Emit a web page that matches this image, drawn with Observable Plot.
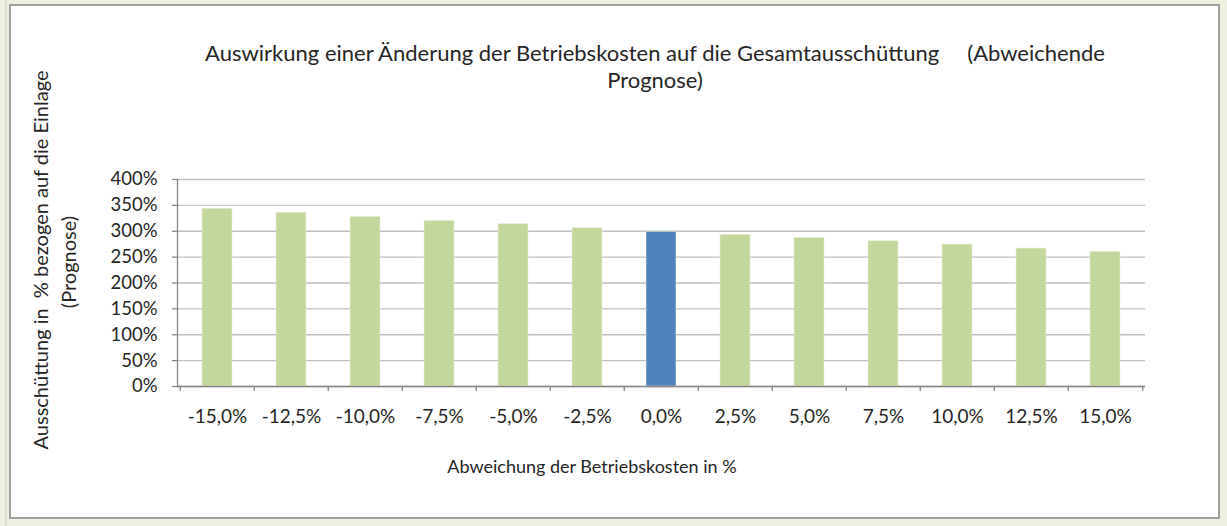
<!DOCTYPE html>
<html>
<head>
<meta charset="utf-8">
<script src="https://cdn.jsdelivr.net/npm/d3@7"></script>
<script src="https://cdn.jsdelivr.net/npm/@observablehq/plot@0.6"></script>
<style>
  html, body { margin: 0; padding: 0; }
  body { background: #EBF1DE; width: 1227px; height: 526px; position: relative; overflow: hidden; font-family: "Lato", "Open Sans", sans-serif; }
  #stripe { position: absolute; left: 5px; top: 0; width: 2px; height: 526px; background: #D9DDD2; }
  #box { position: absolute; left: 9px; top: 4px; width: 1207px; height: 511px; background: #fff; border: 2px solid #A0A0A0; }
  #chart { position: absolute; left: 0; top: 0; }
  .t { position: absolute; color: #262626; white-space: nowrap; }
  #title { left: 155px; width: 1000px; top: 39px; text-align: center; font-size: 22px; line-height: 27px; }
  #xtitle { left: 392px; width: 400px; top: 454px; text-align: center; font-size: 18px; line-height: 24px; }
  .yt { font-size: 20px; line-height: 24px; transform: translate(-50%, -50%) rotate(-90deg); }
</style>
</head>
<body>
<div id="stripe"></div>
<div id="box"></div>
<div id="chart"></div>
<div class="t" id="title">Auswirkung einer Änderung der Betriebskosten auf die Gesamtausschüttung&nbsp;&nbsp;&nbsp;&nbsp; (Abweichende<br>Prognose)</div>
<div class="t" id="xtitle">Abweichung der Betriebskosten in %</div>
<div class="t yt" id="yt1" style="left:40px; top:260px;">Ausschüttung in &nbsp;% bezogen auf die Einlage</div>
<div class="t yt" id="yt2" style="left:68px; top:262px;">(Prognose)</div>
<script>
const categories = ["-15,0%","-12,5%","-10,0%","-7,5%","-5,0%","-2,5%","0,0%","2,5%","5,0%","7,5%","10,0%","12,5%","15,0%"];
const values = [343.5, 335.8, 327.5, 319.8, 313.5, 305.8, 299.0, 293.0, 287.0, 280.7, 274.2, 266.5, 260.2];
const highlightCategory = "0,0%";
const yTicks = [0, 50, 100, 150, 200, 250, 300, 350, 400];

const data = categories.map((c, i) => ({cat: c, value: values[i], group: c === highlightCategory ? "base" : "other"}));

const W = 1227, H = 526;
const mL = 177, mR = 82, mT = 179, mB = 140;
const plotW = W - mL - mR, plotH = H - mT - mB;
const step = plotW / categories.length;
const axisColor = "#868686";

const chart = Plot.plot({
  width: W, height: H,
  marginLeft: mL, marginRight: mR, marginTop: mT, marginBottom: mB,
  style: {background: "transparent", fontFamily: "Lato, 'Open Sans', sans-serif", fontSize: "18px", color: "#262626", overflow: "visible"},
  x: {domain: categories, paddingInner: 0.59, paddingOuter: 0.295, label: null},
  y: {domain: [0, 400], label: null},
  color: {domain: ["other", "base"], range: ["#C3D69B", "#4F81BD"]},
  marks: [
    Plot.gridY(yTicks, {stroke: "#BFBFBF", strokeOpacity: 1, strokeWidth: 1.3}),
    Plot.barY(data, {x: "cat", y: "value", fill: "group", stroke: "#E6EDD6", strokeWidth: 0.6}),
    Plot.ruleY([0], {stroke: axisColor, strokeWidth: 1.3}),
    Plot.frame({anchor: "left", stroke: axisColor, strokeWidth: 1.3}),
    Plot.ruleX(categories, {x: d => d, dx: -step / 2, stroke: axisColor, strokeWidth: 1.3, insetTop: plotH, insetBottom: -5}),
    Plot.ruleX(categories.slice(-1), {x: d => d, dx: step / 2, stroke: axisColor, strokeWidth: 1.3, insetTop: plotH, insetBottom: -5}),
    Plot.axisY(yTicks, {tickFormat: d => d + "%", tickSize: 5, tickPadding: 15, stroke: axisColor, strokeWidth: 1.3, fontSize: 18.5, label: null}),
    Plot.axisX({tickSize: 0, tickPadding: 23, fontSize: 19, label: null})
  ]
});
document.getElementById("chart").appendChild(chart);
</script>
</body>
</html>
